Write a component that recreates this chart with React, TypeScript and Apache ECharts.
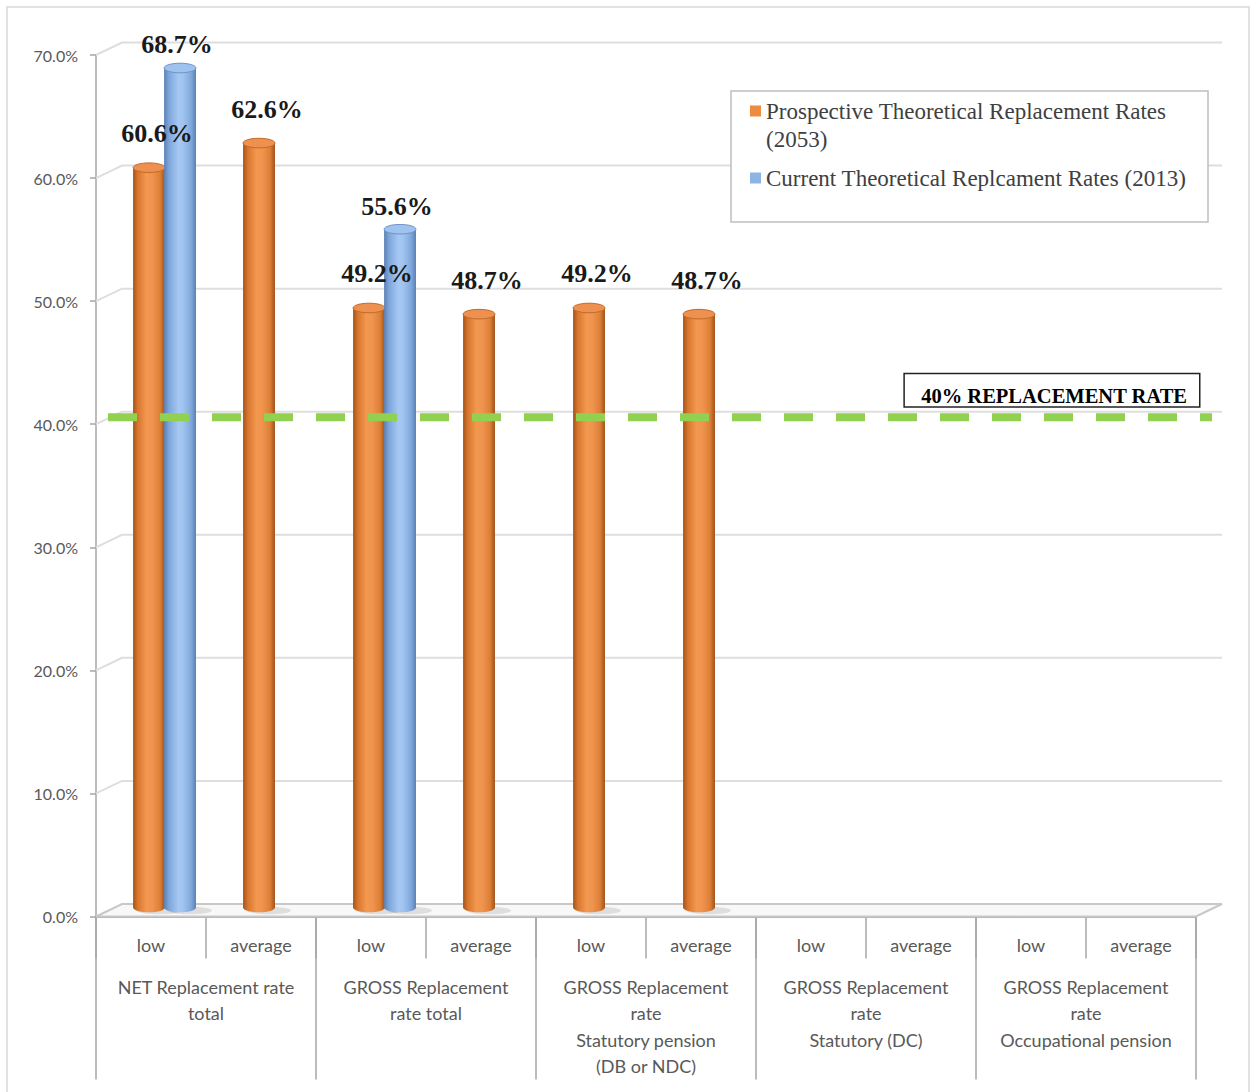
import React, { useEffect, useRef } from "react";
import * as echarts from "echarts";

const SUB_CATEGORIES = ["low", "average", "low", "average", "low", "average", "low", "average", "low", "average"];
const GROUPS = [
  "NET Replacement rate\ntotal",
  "GROSS Replacement\nrate total",
  "GROSS Replacement\nrate\nStatutory pension\n(DB or NDC)",
  "GROSS Replacement\nrate\nStatutory (DC)",
  "GROSS Replacement\nrate\nOccupational pension",
];
const SERIES_NAMES = [
  "Prospective Theoretical Replacement Rates (2053)",
  "Current Theoretical Replcament Rates (2013)",
];
const PROSPECTIVE: (number | null)[] = [60.6, 62.6, 49.2, 48.7, 49.2, 48.7, null, null, null, null];
const CURRENT: (number | null)[] = [68.7, null, 55.6, null, null, null, null, null, null, null];
const Y_TICKS = [0, 10, 20, 30, 40, 50, 60, 70];
const THRESHOLD = 40;
const THRESHOLD_LABEL = "40% REPLACEMENT RATE";

const toData = (arr: (number | null)[]) =>
  arr.map((v, i) => (v == null ? null : [i, v])).filter((d) => d != null) as number[][];

const DEPTH_X = 26;
const DEPTH_Y = 12.5;

function makeCylinder(
  stops: [number, string][],
  topFill: string,
  rim: string,
  offsetFrac: number,
  labelDx: number,
  labelGap: number,
  z2: number
) {
  return (params: any, api: any) => {
    const i = api.value(0);
    const v = api.value(1);
    const slot = api.size([1, 0])[0];
    const base = api.coord([i, 0]);
    const top = api.coord([i, v]);
    const w = slot * 0.29;
    const cx = base[0] + slot * offsetFrac;
    const by = base[1] - 9;
    const ty = top[1] - 3;
    const ry = w * 0.15;
    const grad = new echarts.graphic.LinearGradient(0, 0, 1, 0, stops.map(([offset, color]) => ({ offset, color })));
    return {
      type: "group",
      children: [
        {
          type: "ellipse",
          z2: z2 - 1,
          shape: { cx: cx + 10, cy: by + 3, rx: w / 2 + 6, ry: ry * 0.8 },
          style: { fill: "rgba(0,0,0,0.10)" },
        },
        {
          type: "ellipse",
          z2,
          shape: { cx, cy: by, rx: w / 2, ry },
          style: { fill: grad },
        },
        {
          type: "rect",
          z2,
          shape: { x: cx - w / 2, y: ty, width: w, height: by - ty },
          style: { fill: grad },
        },
        {
          type: "ellipse",
          z2: z2 + 1,
          shape: { cx, cy: ty, rx: w / 2, ry },
          style: { fill: topFill, stroke: rim, lineWidth: 1 },
        },
        {
          type: "text",
          z2: 100,
          style: {
            text: v.toFixed(1) + "%",
            x: cx + labelDx,
            y: ty - labelGap,
            align: "center",
            verticalAlign: "middle",
            font: "bold 26px 'Liberation Serif', serif",
            fill: "#1a1a1a",
          },
        },
      ],
    };
  };
}

const renderGrid = (params: any, api: any) => {
  const v = api.value(1);
  const slot = api.size([1, 0])[0];
  const first = api.coord([0, v]);
  const last = api.coord([SUB_CATEGORIES.length - 1, v]);
  const xl = first[0] - slot / 2;
  const xr = last[0] + slot / 2;
  const y = first[1];
  if (v === 0) {
    return {
      type: "polygon",
      shape: {
        points: [
          [xl, y],
          [xl + DEPTH_X, y - DEPTH_Y],
          [xr + DEPTH_X, y - DEPTH_Y],
          [xr, y],
        ],
      },
      style: { fill: "#f8f8f8", stroke: "#c8c8c8", lineWidth: 2 },
    };
  }
  return {
    type: "polyline",
    shape: {
      points: [
        [xl, y],
        [xl + DEPTH_X, y - DEPTH_Y],
        [xr + DEPTH_X, y - DEPTH_Y],
      ],
    },
    style: { stroke: "#dedede", lineWidth: 2, fill: "none" },
  };
};

const renderThreshold = (params: any, api: any) => {
  const v = api.value(1);
  const slot = api.size([1, 0])[0];
  const first = api.coord([0, v]);
  const last = api.coord([SUB_CATEGORIES.length - 1, v]);
  const xl = first[0] - slot / 2;
  const xr = last[0] + slot / 2;
  const y = first[1] - 7;
  return {
    type: "group",
    children: [
      {
        type: "line",
        shape: { x1: xl + 12, y1: y, x2: xr + 16, y2: y },
        style: { stroke: "#92d050", lineWidth: 8, lineDash: [29, 23] },
      },
      {
        type: "text",
        style: {
          text: THRESHOLD_LABEL,
          x: xr + 3,
          y: y - 11,
          align: "right",
          verticalAlign: "bottom",
          font: "bold 20.5px 'Liberation Serif', serif",
          fill: "#000",
          backgroundColor: "#fff",
          borderColor: "#222",
          borderWidth: 1.5,
          padding: [12, 12, 0, 16],
          lineHeight: 20,
        },
      },
    ],
  };
};

export default function App() {
  const ref = useRef<HTMLDivElement>(null);
  useEffect(() => {
    if (!ref.current) return;
    const chart = echarts.init(ref.current, undefined, { renderer: "svg" });
    const axisColor = "#a6a6a6";
    const option: any = {
      animation: false,
      backgroundColor: "#ffffff",
      textStyle: { fontFamily: "Lato, sans-serif" },
      grid: { left: 96, right: 54, top: 55, bottom: 175.5, containLabel: false },
      legend: {
        orient: "vertical",
        left: 750,
        top: 69,
        padding: 0,
        itemWidth: 11,
        itemHeight: 11,
        itemGap: 11,
        icon: "rect",
        z: 5,
        data: SERIES_NAMES,
        formatter: (n: string) =>
          n === SERIES_NAMES[0] ? "\nProspective Theoretical Replacement Rates\n(2053)" : n,
        textStyle: {
          fontFamily: "'Liberation Serif', serif",
          fontSize: 23,
          lineHeight: 28,
          color: "#404040",
        },
      },
      graphic: [
        {
          type: "rect",
          z: 0,
          shape: { x: 7, y: 7, width: 1242, height: 1100 },
          style: { fill: "none", stroke: "#d9d9d9", lineWidth: 1.5 },
        },
        {
          type: "rect",
          z: 3,
          shape: { x: 731, y: 91, width: 477, height: 131 },
          style: { fill: "#ffffff", stroke: "#bfbfbf", lineWidth: 1.5 },
        },
      ],
      xAxis: [
        {
          type: "category",
          data: SUB_CATEGORIES,
          position: "bottom",
          axisLine: { show: true, lineStyle: { color: axisColor, width: 1.5 } },
          axisTick: { show: true, interval: 0, length: 42, lineStyle: { color: axisColor, width: 1.5 } },
          axisLabel: { interval: 0, margin: 18, fontSize: 18, lineHeight: 20, color: "#595959", fontFamily: "Lato, sans-serif" },
          splitLine: { show: false },
        },
        {
          type: "category",
          data: GROUPS,
          position: "bottom",
          axisLine: { show: true, lineStyle: { color: axisColor, width: 1.5 } },
          axisTick: { show: true, interval: 0, length: 163, lineStyle: { color: axisColor, width: 1.5 } },
          axisLabel: { interval: 0, margin: 57, fontSize: 18, lineHeight: 26.5, color: "#595959", fontFamily: "Lato, sans-serif", align: "center" },
          splitLine: { show: false },
        },
      ],
      yAxis: {
        type: "value",
        min: 0,
        max: 70,
        interval: 10,
        axisLine: { show: true, lineStyle: { color: axisColor, width: 1.5 } },
        axisTick: { show: true, length: 6, lineStyle: { color: axisColor, width: 1.5 } },
        axisLabel: { formatter: (v: number) => v.toFixed(1) + "%", fontSize: 16, color: "#595959", margin: 18, fontFamily: "Lato, sans-serif" },
        splitLine: { show: false },
      },
      series: [
        {
          type: "custom",
          name: "grid",
          coordinateSystem: "cartesian2d",
          xAxisIndex: 0,
          yAxisIndex: 0,
          z: 1,
          silent: true,
          clip: false,
          data: Y_TICKS.map((t) => [0, t]),
          renderItem: renderGrid,
        },
        {
          type: "custom",
          name: SERIES_NAMES[0],
          coordinateSystem: "cartesian2d",
          xAxisIndex: 0,
          yAxisIndex: 0,
          z: 2,
          clip: false,
          itemStyle: { color: "#ed8b3e" },
          data: toData(PROSPECTIVE),
          renderItem: makeCylinder(
            [
              [0, "#a4531a"],
              [0.15, "#d8762e"],
              [0.42, "#f2984f"],
              [0.6, "#f09450"],
              [0.85, "#dc7f35"],
              [1, "#a0521a"],
            ],
            "#ee9150",
            "#c26a28",
            -0.018,
            8,
            34,
            0
          ),
        },
        {
          type: "custom",
          name: SERIES_NAMES[1],
          coordinateSystem: "cartesian2d",
          xAxisIndex: 0,
          yAxisIndex: 0,
          z: 2,
          clip: false,
          itemStyle: { color: "#8db4e2" },
          data: toData(CURRENT),
          renderItem: makeCylinder(
            [
              [0, "#5a80b5"],
              [0.15, "#7ea5da"],
              [0.45, "#a5c8f3"],
              [0.6, "#a0c3f0"],
              [0.85, "#80a7db"],
              [1, "#5a7fb3"],
            ],
            "#9fc2ef",
            "#6d93c8",
            0.264,
            -3,
            23,
            10
          ),
        },
        {
          type: "custom",
          name: "threshold",
          coordinateSystem: "cartesian2d",
          xAxisIndex: 0,
          yAxisIndex: 0,
          z: 3,
          silent: true,
          clip: false,
          data: [[0, THRESHOLD]],
          renderItem: renderThreshold,
        },
      ],
    };
    chart.setOption(option);
    return () => chart.dispose();
  }, []);
  return (
    <div
      ref={ref}
      style={{ position: "absolute", left: 0, top: 0, width: 1250, height: 1092, background: "#fff" }}
    />
  );
}
